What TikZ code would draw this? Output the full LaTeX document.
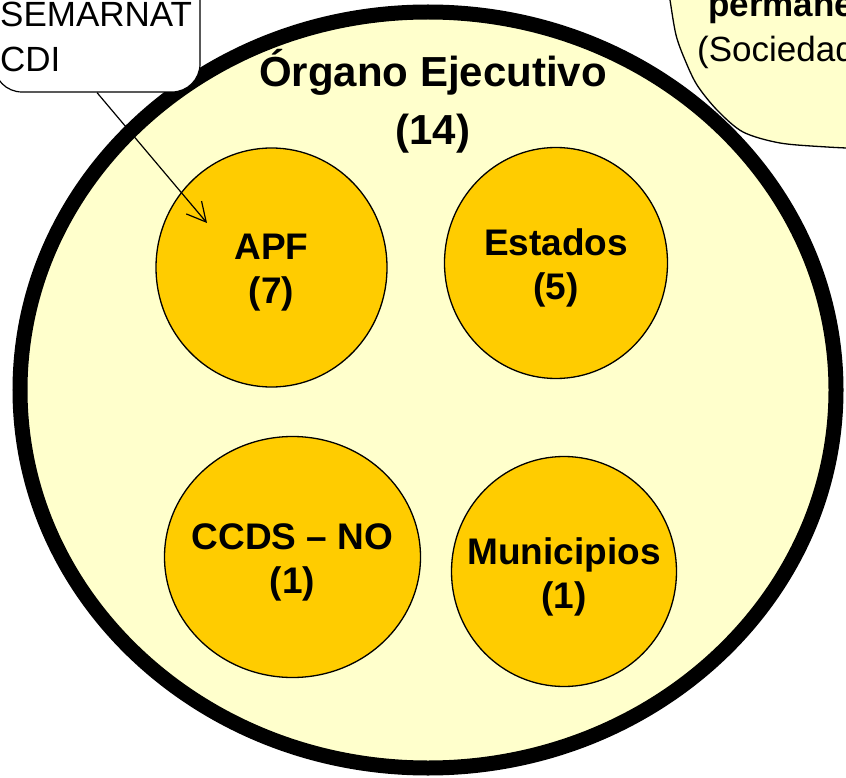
\documentclass[tikz,border=0pt]{standalone}
\usepackage{fontspec}
\setmainfont{Liberation Sans}
\usetikzlibrary{shapes.geometric,arrows.meta}

\definecolor{paleyellow}{HTML}{FFFFCC}
\definecolor{gold}{HTML}{FFCC00}

\tikzset{
  organo/.style={ellipse, draw, line width=15pt, fill=paleyellow, inner sep=0pt},
  grupo/.style={ellipse, draw, line width=1.3pt, fill=gold, inner sep=0pt},
  grupo texto/.style={inner sep=0pt, align=center, yshift=-5pt,
    font=\fontsize{37pt}{44pt}\selectfont\bfseries},
  titulo/.style={inner sep=0pt, align=center, font=\fontsize{42pt}{58pt}\selectfont\bfseries},
  callout/.style={rectangle, draw, line width=1.2pt, rounded corners=28pt, fill=white},
  callout text/.style={inner sep=0pt, align=left, font=\fontsize{35pt}{45pt}\selectfont},
}

\begin{document}
\begin{tikzpicture}[x=1pt, y=-1pt, >={Straight Barb[length=19pt,width=20pt]}]
  \useasboundingbox (0,0) rectangle (846,778);
  \clip (0,0) rectangle (846,778);

  % consejo, cut off at the top right
  \path[fill=paleyellow] plot[smooth] coordinates {(667,-20) (670,0) (676,35) (685,60) (697,85) (717,110) (743,132) (780,143) (827,147) (870,149)} -- (870,-20) -- cycle;
  \draw[line width=1.3pt] plot[smooth] coordinates {(667,-20) (670,0) (676,35) (685,60) (697,85) (717,110) (743,132) (780,143) (827,147) (870,149)};
  \node[anchor=base west, inner sep=0pt, font=\fontsize{35pt}{40pt}\selectfont\bfseries] (permanente) at (708,17) {permane};
  \node[anchor=base west, inner sep=0pt, font=\fontsize{35pt}{40pt}\selectfont] (sociedad) at (697,62) {(Sociedad};

  % organo ejecutivo
  \node[organo, minimum width=816pt, minimum height=756pt] (ejecutivo) at (428,390) {};
  \node[titulo, anchor=north] (titulo) at (433,49) {Órgano Ejecutivo\\(14)};

  % groups
  \node[grupo, minimum width=231pt, minimum height=239pt] (apf) at (271.5,267.5) {};
  \node[grupo, minimum width=223pt, minimum height=231pt] (estados) at (556,263) {};
  \node[grupo, minimum width=256pt, minimum height=241pt] (ccds) at (292.5,557) {};
  \node[grupo, minimum width=225pt, minimum height=230pt] (municipios) at (564,571.5) {};

  \node[grupo texto] (apftexto) at (apf) {APF\\(7)};
  \node[grupo texto] (estadostexto) at (estados) {Estados\\(5)};
  \node[grupo texto] (ccdstexto) at (ccds) {CCDS – NO\\(1)};
  \node[grupo texto] (municipiostexto) at (municipios) {Municipios\\(1)};

  % callout
  \node[callout, minimum width=206pt, minimum height=132pt] (cdibox) at (97,26) {};
  \node[callout text, anchor=north west] (semarnat) at (0,2) {SEMARNAT\\CDI};
  \coordinate (flecha) at (207,223);
  \draw[->, line width=1.2pt] (cdibox.south) -- (flecha);

\end{tikzpicture}
\end{document}
